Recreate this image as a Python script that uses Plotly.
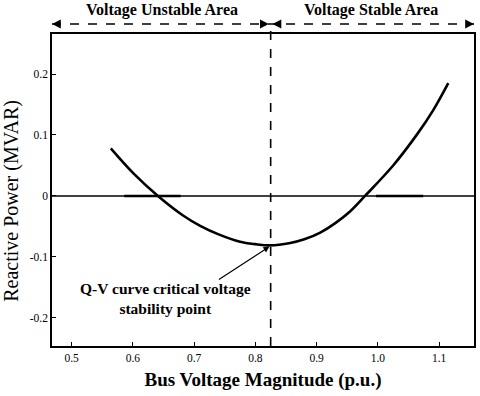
import plotly.graph_objects as go

# Q-V curve points
voltage = [0.564, 0.601, 0.641, 0.682, 0.710, 0.740, 0.775, 0.800, 0.824,
           0.857, 0.880, 0.906, 0.930, 0.955, 0.979, 1.025, 1.064, 1.090, 1.115]
reactive = [0.078, 0.037, 0.000, -0.032, -0.049, -0.063, -0.075, -0.079, -0.081,
            -0.077, -0.071, -0.060, -0.045, -0.025, 0.000, 0.050, 0.101, 0.140, 0.185]

# thick short segments on the zero line
seg_left_x = [0.586, 0.678]
seg_right_x = [0.997, 1.074]
seg_y = [0, 0]

critical_v = 0.825
critical_q = -0.081

x_ticks = [0.5, 0.6, 0.7, 0.8, 0.9, 1.0, 1.1]
x_tick_text = ["0.5", "0.6", "0.7", "0.8", "0.9", "1.0", "1.1"]
y_ticks = [-0.2, -0.1, 0, 0.1, 0.2]
y_tick_text = ["-0.2", "-0.1", "0", "0.1", "0.2"]

serif = "Liberation Serif, Times New Roman, serif"

fig = go.Figure()
fig.add_trace(go.Scatter(x=voltage, y=reactive, mode="lines",
                         line=dict(color="black", width=2.6, shape="spline", smoothing=1.0),
                         showlegend=False, hoverinfo="skip"))
for sx in (seg_left_x, seg_right_x):
    fig.add_trace(go.Scatter(x=sx, y=seg_y, mode="lines",
                             line=dict(color="black", width=2.6),
                             showlegend=False, hoverinfo="skip"))

# zero line
fig.add_shape(type="line", xref="paper", yref="y", x0=0, x1=1, y0=0, y1=0,
              line=dict(color="black", width=1.3))
# dashed vertical critical line extending above plot
top_y = 1.032
fig.add_shape(type="line", xref="x", yref="paper", x0=critical_v, x1=critical_v, y0=0, y1=top_y,
              line=dict(color="black", width=1.6, dash="dash"))
# dashed horizontal arrows
fig.add_shape(type="line", xref="paper", yref="paper", x0=0.0, x1=1.0, y0=top_y, y1=top_y,
              line=dict(color="black", width=1.6, dash="dash"))

def head(xref, x, ax):
    fig.add_annotation(xref=xref, yref="paper", x=x, y=top_y, ax=ax, ay=0,
                       showarrow=True, arrowhead=2, arrowsize=1.1, arrowwidth=1.6,
                       arrowcolor="black", text="")

head("paper", 0.0, 8)
head("x", critical_v - 0.003, -8)
head("x", critical_v + 0.003, 8)
head("paper", 1.0, -8)

fig.add_annotation(xref="x", yref="paper", x=0.648, y=1.077, text="<b>Voltage Unstable Area</b>",
                   showarrow=False, font=dict(family=serif, size=16, color="black"), yanchor="middle")
fig.add_annotation(xref="x", yref="paper", x=0.989, y=1.077, text="<b>Voltage Stable Area</b>",
                   showarrow=False, font=dict(family=serif, size=16, color="black"), yanchor="middle")

# y-axis title (regular weight, sits slightly below the plot centre)
fig.add_annotation(xref="paper", yref="paper", x=-0.095, y=0.465, text="Reactive Power (MVAR)",
                   textangle=-90, showarrow=False, xanchor="center", yanchor="middle",
                   font=dict(family=serif, size=20, color="black"))

# critical point annotation
fig.add_annotation(xref="x", yref="y", x=critical_v - 0.002, y=critical_q - 0.002,
                   ax=-52, ay=34, showarrow=True, arrowhead=2, arrowsize=1, arrowwidth=1.2,
                   arrowcolor="black", text="")
fig.add_annotation(xref="x", yref="y", x=0.654, y=-0.168,
                   text="<b>Q-V curve critical voltage<br>stability point</b>",
                   showarrow=False, font=dict(family=serif, size=15.5, color="black"),
                   align="center")

axis_common = dict(showgrid=False, zeroline=False, showline=True, linecolor="black", linewidth=1.5,
                   mirror=True, ticks="inside", ticklen=4, tickcolor="black", tickwidth=1.2,
                   automargin=False,
                   tickfont=dict(family=serif, size=11.5, color="black"))

fig.update_layout(
    width=480, height=396,
    margin=dict(l=52, r=6, t=34, b=50),
    paper_bgcolor="white", plot_bgcolor="white",
    xaxis=dict(range=[0.468, 1.157], tickvals=x_ticks, ticktext=x_tick_text,
               title=dict(text="<b>Bus Voltage Magnitude (p.u.)</b>",
                          font=dict(family=serif, size=19, color="black"), standoff=10),
               **axis_common),
    yaxis=dict(range=[-0.246, 0.2656], tickvals=y_ticks, ticktext=y_tick_text,
               **axis_common),
)

# remove the default page margin so the figure sits at the window's top-left corner
fig.write_html("out.html", config={"displayModeBar": False},
               post_script="document.body.style.margin='0';")
